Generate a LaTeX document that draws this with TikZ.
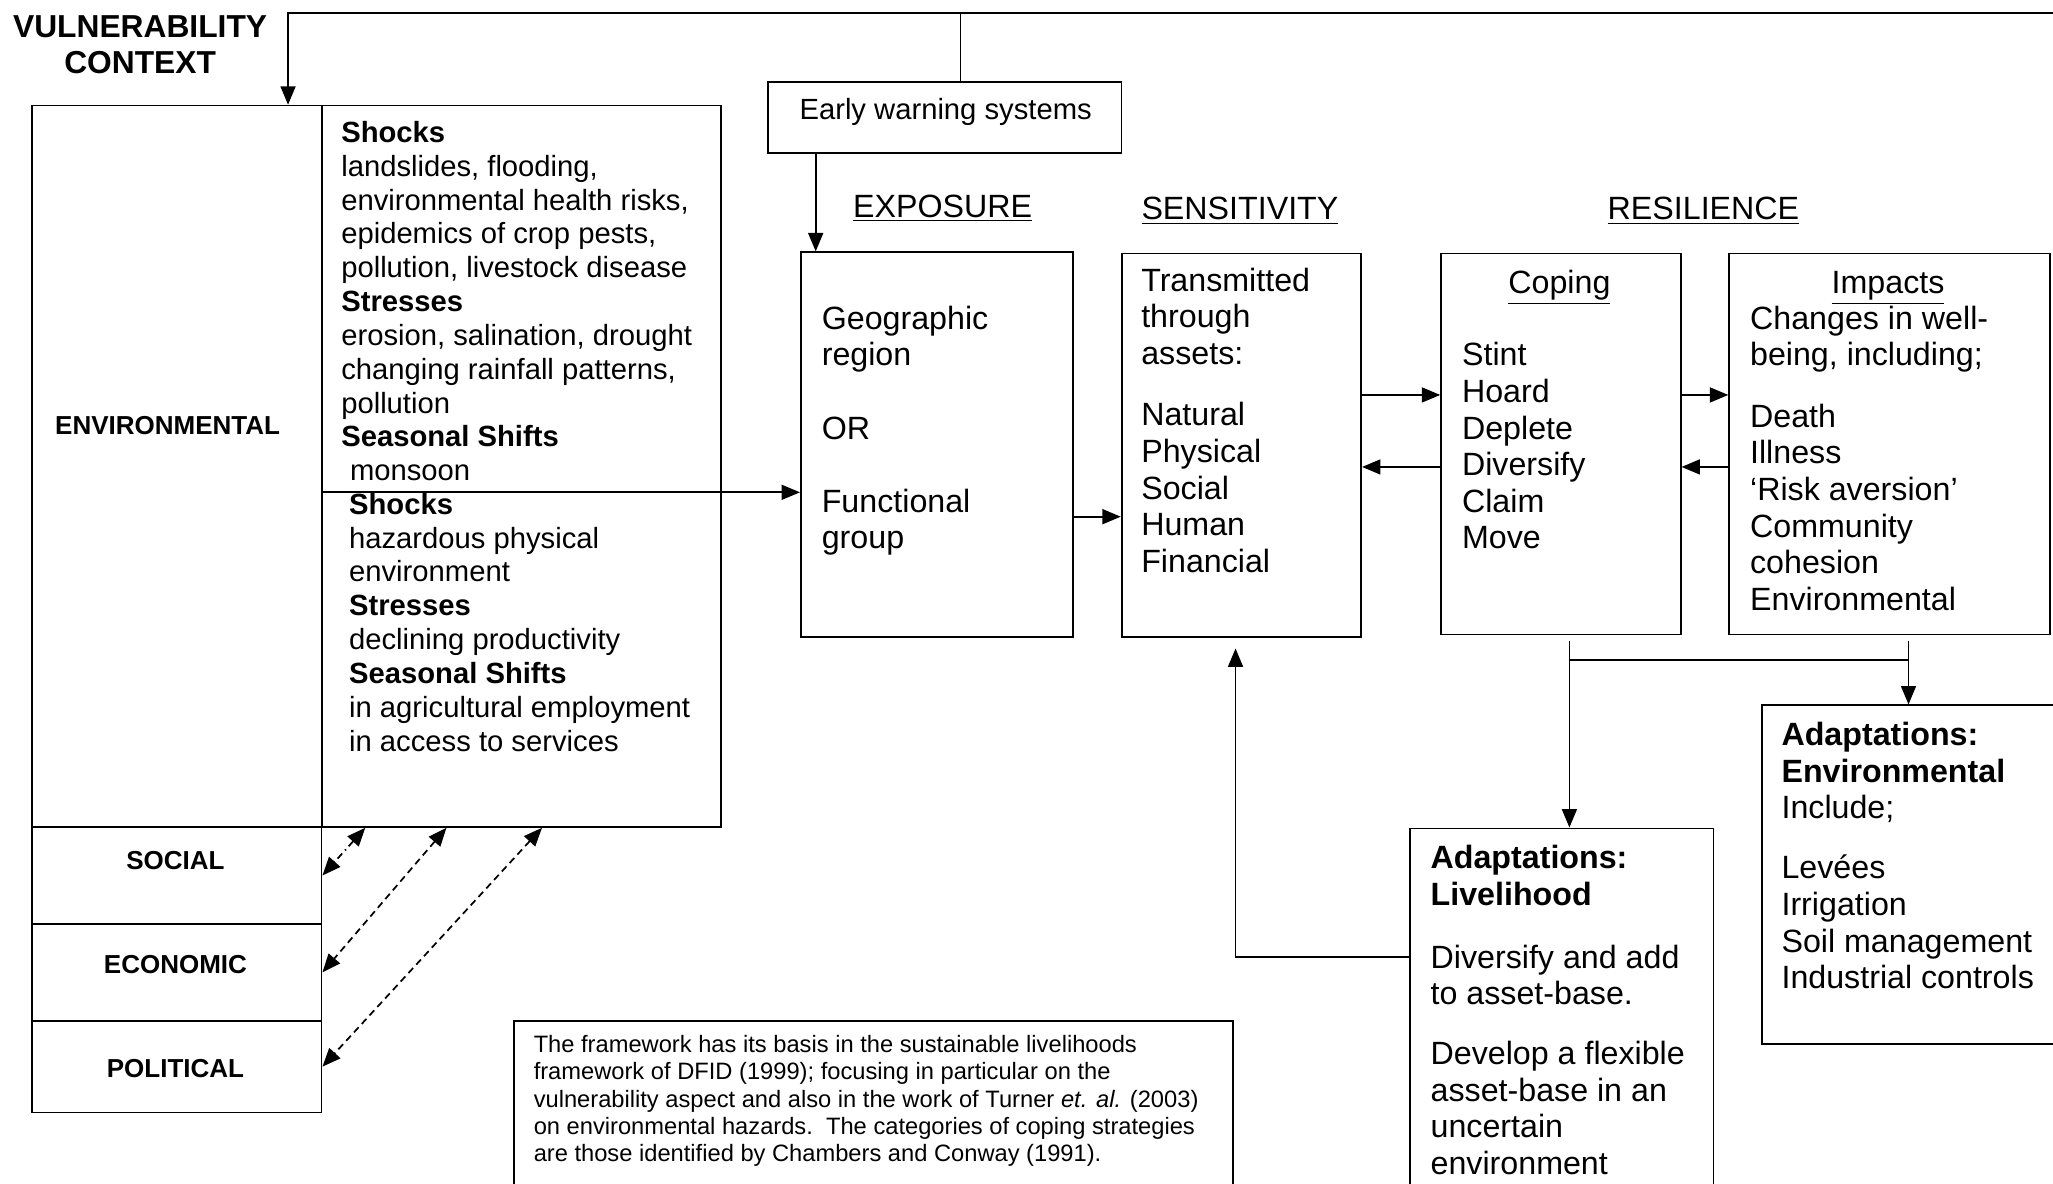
\documentclass[tikz,border=0pt]{standalone}
\usepackage{fontspec}
\setmainfont{Liberation Sans}
\usepackage{xcolor}
\usepackage{tikz}
\usetikzlibrary{arrows.meta}

\tikzset{
  box/.style={draw, anchor=north west, inner sep=0pt},
  txt/.style={anchor=north west, align=left, inner sep=0pt, font=\fontsize{14}{15.9}\selectfont},
  smalltxt/.style={anchor=north west, align=left, inner sep=0pt, font=\fontsize{12.7}{14.7}\selectfont},
  cat/.style={inner sep=0pt, font=\bfseries\fontsize{11.3}{13}\selectfont},
  head/.style={anchor=base, inner sep=0pt, font=\fontsize{14}{16}\selectfont},
  link/.style={<->, dash pattern=on 3pt off 2pt},
}

\begin{document}
\begin{tikzpicture}[x=0.02cm, y=-0.02cm, line width=0.75pt, >={Triangle[length=8pt,width=6.5pt]}]
 \useasboundingbox (0,0) rectangle (1568,904);
 \clip (0,0) rectangle (1568,904);

 % context column
 \node [align=center, inner sep=0pt, font=\bfseries\fontsize{13.8}{15.9}\selectfont] (vc) at (107,34) {VULNERABILITY\\CONTEXT};
 \node [box, minimum width=4.42cm, minimum height=11.02cm] (env) at (24,80) {};
 \node [box, minimum width=6.10cm, minimum height=11.02cm] (envtxt) at (245,80) {};
 \node [box, minimum width=4.42cm, minimum height=1.48cm] (soc) at (24,631) {};
 \node [box, minimum width=4.42cm, minimum height=1.48cm] (eco) at (24,705) {};
 \node [box, minimum width=4.42cm, minimum height=1.40cm] (pol) at (24,779) {};
 \node [cat] (envlbl) at (128,325) {ENVIRONMENTAL};
 \node [cat] (soclbl) at (134,657) {SOCIAL};
 \node [cat] (ecolbl) at (134,737) {ECONOMIC};
 \node [cat] (pollbl) at (134,816) {POLITICAL};

 \node [smalltxt] (shk1) at (260,92) {\textbf{Shocks}\\landslides, flooding,\\environmental health risks,\\epidemics of crop pests,\\pollution, livestock disease\\\textbf{Stresses}\\erosion, salination, drought\\changing rainfall patterns,\\pollution\\\textbf{Seasonal Shifts}\\\hspace*{0.3em}monsoon};
 \node [smalltxt] (shk2) at (266,376) {\textbf{Shocks}\\hazardous physical\\environment\\\textbf{Stresses}\\declining productivity\\\textbf{Seasonal Shifts}\\in agricultural employment\\in access to services};

 % early warning
 \node [box, minimum width=5.40cm, minimum height=1.08cm] (ews) at (586,62) {};
 \node [anchor=base west, inner sep=0pt, font=\fontsize{12.7}{14.7}\selectfont] (ewstxt) at (610,91) {Early warning systems};

 % headings
 \node [head] (hexpo) at (720,166) {\underline{EXPOSURE}};
 \node [head] (hsens) at (947,168) {\underline{SENSITIVITY}};
 \node [head] (hres) at (1301,168) {\underline{RESILIENCE}};

 % main row
 \node [box, minimum width=4.16cm, minimum height=5.88cm] (expo) at (611,192) {};
 \node [txt] (expotxt) at (627,233) {Geographic\\region\\[0.56cm]OR\\[0.56cm]Functional\\group};

 \node [box, minimum width=3.66cm, minimum height=5.86cm] (sens) at (856,193) {};
 \node [txt] (senstxt) at (871,204) {Transmitted\\through\\assets:\\[0.38cm]Natural\\Physical\\Social\\Human\\Financial};

 \node [box, minimum width=3.66cm, minimum height=5.82cm] (cope) at (1100,193) {};
 \node [head] (hcope) at (1191,224) {\underline{Coping}};
 \node [txt] (copetxt) at (1116,261) {Stint\\Hoard\\Deplete\\Diversify\\Claim\\Move};

 \node [box, minimum width=4.90cm, minimum height=5.82cm] (imp) at (1320,193) {};
 \node [head] (himp) at (1442,224) {\underline{Impacts}};
 \node [txt] (imptxt) at (1336,233) {Changes in well-\\being, including;\\[0.38cm]Death\\Illness\\`Risk aversion'\\Community\\cohesion\\Environmental};

 % adaptations
 \node [box, minimum width=4.64cm, minimum height=5.66cm] (adliv) at (1076,632) {};
 \node [txt] (adlivtxt) at (1092,645) {\textbf{Adaptations:}\\\textbf{Livelihood}\\[0.40cm]Diversify and add\\to asset-base.\\[0.36cm]Develop a flexible\\asset-base in an\\uncertain\\environment};

 \node [box, minimum width=4.60cm, minimum height=5.18cm] (adenv) at (1345,538) {};
 \node [txt] (adenvtxt) at (1360,551) {\textbf{Adaptations:}\\\textbf{Environmental}\\Include;\\[0.36cm]Levées\\Irrigation\\Soil management\\Industrial controls};

 % note
 \node [box, minimum width=10.98cm, minimum height=2.72cm] (note) at (392,779) {};
 \node [anchor=north west, align=left, inner sep=0pt, font=\fontsize{10.3}{11.9}\selectfont] (notetxt) at (407,790) {The framework has its basis in the sustainable livelihoods\\framework of DFID (1999); focusing in particular on the\\vulnerability aspect and also in the work of Turner \textit{et. al.} (2003)\\on environmental hazards.\ \ The categories of coping strategies\\are those identified by Chambers and Conway (1991).};

 % connectors
 \coordinate (topL) at (220,10);
 \coordinate (topR) at (1568,10);
 \draw [->] (topR) -- (topL) -- (topL |- env.north);
 \coordinate (ewtop) at ([xshift=0.24cm]ews.north);
 \draw (ewtop) -- (ewtop |- topL);
 \coordinate (ewa) at ([xshift=0.24cm]expo.north west);
 \draw [->] (ewa |- ews.south) -- (ewa);

 \coordinate (split) at (245,376);
 \draw [->] (split) -- (split -| expo.west);

 \coordinate (e1) at ([yshift=-1.1cm]expo.east);
 \draw [->] (e1) -- (e1 -| sens.west);
 \coordinate (s1) at ([yshift=0.77cm]sens.east);
 \coordinate (s2) at ([yshift=-0.33cm]sens.east);
 \draw [->] (s1) -- (s1 -| cope.west);
 \draw [<-] (s2) -- (s2 -| cope.west);
 \coordinate (c1) at ([yshift=0.75cm]cope.east);
 \coordinate (c2) at ([yshift=-0.35cm]cope.east);
 \draw [->] (c1) -- (c1 -| imp.west);
 \draw [<-] (c2) -- (c2 -| imp.west);

 \coordinate (cp) at ([xshift=0.13cm,yshift=-0.08cm]cope.south);
 \coordinate (ip) at ([xshift=0.29cm,yshift=-0.08cm]imp.south);
 \draw [->] (cp) -- (cp |- adliv.north);
 \draw [->] (ip) -- (ip |- adenv.north);
 \coordinate (br) at (1198,504);
 \draw (br) -- (br -| ip);

 \coordinate (fb) at (1076,731);
 \coordinate (sb) at ([xshift=-0.09cm,yshift=-0.16cm]sens.south);
 \draw [->] (fb) -| (sb);

 \draw [link, dash pattern=on 3pt off 1.8pt on 0.6pt off 1.8pt] ([xshift=0.68cm]envtxt.south west) -- (soc.east);
 \draw [link] ([xshift=1.92cm]envtxt.south west) -- (eco.east);
 \draw [link] ([xshift=3.38cm]envtxt.south west) -- (pol.east);
\end{tikzpicture}
\end{document}
